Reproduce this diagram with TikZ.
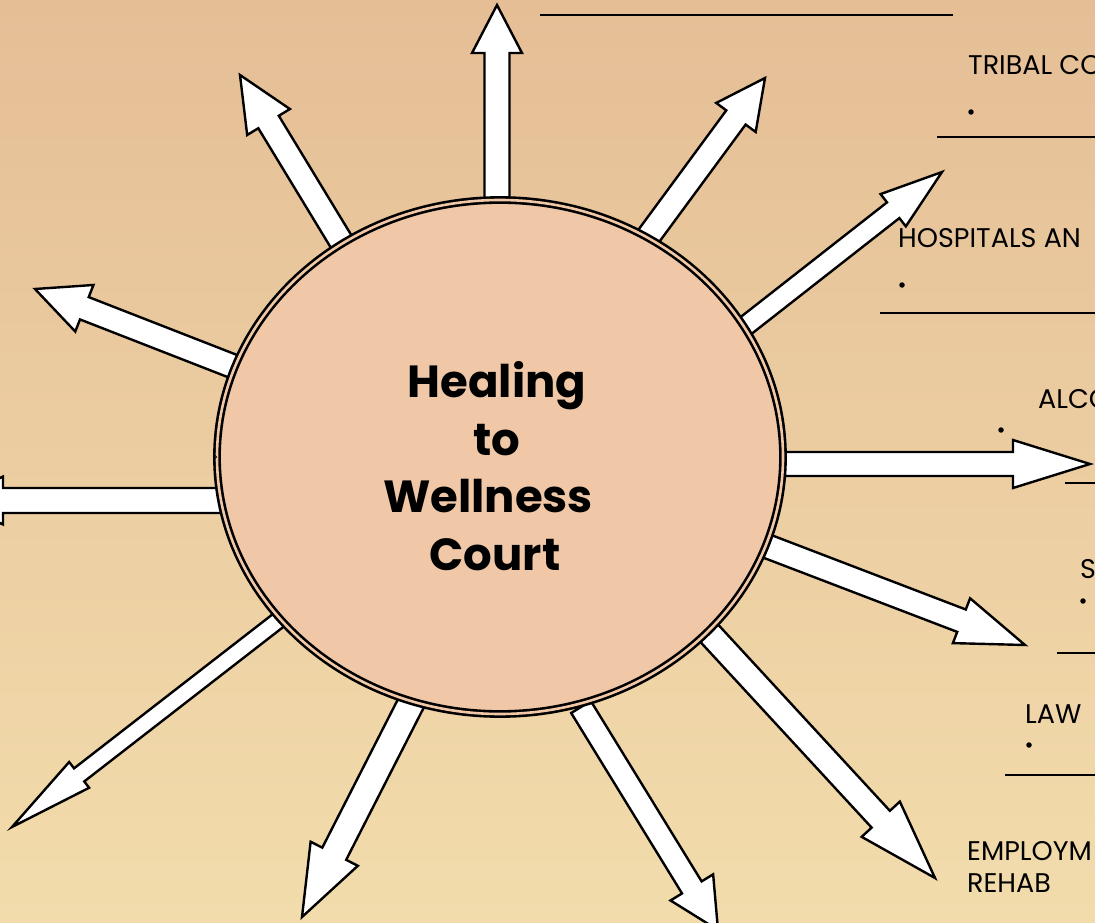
\documentclass[tikz,border=0pt]{standalone}
\usepackage{fontspec}
\setmainfont{Poppins}
\usetikzlibrary{calc,shapes.geometric}
\definecolor{bgtop}{RGB}{229,190,150}
\definecolor{bgmid}{RGB}{235,205,162}
\definecolor{bgbot}{RGB}{242,220,172}
\definecolor{hubfill}{RGB}{240,200,168}
\newcommand\sunarrow[5]{%
  \coordinate (hb) at ($(#2)!#5!(#1)$);
  \draw[rayarrow] ($(#1)!#3!90:(#2)$) -- ($(hb)!#3!90:(#2)$) -- ($(hb)!#4!90:(#2)$) -- (#2)
     -- ($(hb)!#4!-90:(#2)$) -- ($(hb)!#3!-90:(#2)$) -- ($(#1)!#3!-90:(#2)$) -- cycle;}
\begin{document}
\begin{tikzpicture}[x=1pt,y=-1pt,
  rayarrow/.style={fill=white,draw=black,line width=2.4pt,line join=miter},
  hub/.style={ellipse,draw=black,line width=2.6pt,double=hubfill,double distance=2.6pt,
    fill=hubfill,minimum width=566pt,minimum height=514pt,inner sep=0pt},
  titletext/.style={anchor=base,inner sep=0pt,font=\fontsize{45}{50}\selectfont\bfseries},
  lbl/.style={anchor=base west,inner sep=0pt,font=\fontsize{27}{32}\selectfont},
  dotm/.style={circle,fill=black,inner sep=0pt,minimum size=5.5pt},
  rule/.style={draw=black,line width=2.4pt}]
\useasboundingbox (0,0) rectangle (1095,923);
\fill[top color=bgtop,middle color=bgmid,bottom color=bgbot] (0,0) rectangle (1095,923);

% arrow bases and tips
\coordinate (b1) at (497,215);   \coordinate (t1) at (497,5);
\coordinate (b2) at (346,249.5); \coordinate (t2) at (240,75);
\coordinate (b3) at (645,241);   \coordinate (t3) at (765,78);
\coordinate (b4) at (739,331);   \coordinate (t4) at (942,172);
\coordinate (b5) at (240,369);   \coordinate (t5) at (35,289);
\coordinate (b6) at (232,500.5); \coordinate (t6) at (-47,500.5);
\coordinate (b7) at (775,464);   \coordinate (t7) at (1090,464);
\coordinate (b8) at (763,544.7); \coordinate (t8) at (1025,645);
\coordinate (b9) at (709,633);   \coordinate (t9) at (935,878);
\coordinate (b10) at (581,707);  \coordinate (t10) at (718,930);
\coordinate (b11) at (415.5,694.3); \coordinate (t11) at (302,917);
\coordinate (b12) at (286.5,614); \coordinate (t12) at (12,827);

\sunarrow{b1}{t1}{12.5pt}{25pt}{48pt}
\sunarrow{b2}{t2}{12pt}{25pt}{55pt}
\sunarrow{b3}{t3}{12pt}{24.5pt}{49pt}
\sunarrow{b4}{t4}{10pt}{20.5pt}{62pt}
\sunarrow{b5}{t5}{12pt}{25pt}{53pt}
\sunarrow{b6}{t6}{12.5pt}{24pt}{50pt}
\sunarrow{b7}{t7}{12pt}{24pt}{77pt}
\sunarrow{b8}{t8}{12pt}{24pt}{68pt}
\sunarrow{b9}{t9}{12.4pt}{26pt}{80pt}
\sunarrow{b10}{t10}{11.5pt}{25pt}{50pt}
\sunarrow{b11}{t11}{13.4pt}{26.5pt}{71pt}
\sunarrow{b12}{t12}{8.3pt}{16.3pt}{85pt}

\node[hub] (hub) at (500,457) {};
\draw[line width=0.6pt] (215,457) circle (1.6);

\node[titletext] (tA) at (497,397) {Healing};
\node[titletext] (tB) at (497,455) {to};
\node[titletext] (tC) at (488,512) {Wellness};
\node[titletext] (tD) at (495,570) {Court};

% right-hand list
\coordinate (r0a) at (540,15);   \coordinate (r0b) at (953,15);
\coordinate (r1a) at (937,137);  \coordinate (r1b) at (1095,137);
\coordinate (r2a) at (880,313);  \coordinate (r2b) at (1095,313);
\coordinate (r3a) at (1065,483); \coordinate (r3b) at (1095,483);
\coordinate (r4a) at (1057,653); \coordinate (r4b) at (1095,653);
\coordinate (r5a) at (1005,775); \coordinate (r5b) at (1095,775);
\draw[rule] (r0a) -- (r0b);
\draw[rule] (r1a) -- (r1b);
\draw[rule] (r2a) -- (r2b);
\draw[rule] (r3a) -- (r3b);
\draw[rule] (r4a) -- (r4b);
\draw[rule] (r5a) -- (r5b);

\node[lbl] (lTribal) at (968,75) {TRIBAL CO};
\node[dotm] (d1) at (971,112) {};
\node[lbl] (lHosp) at (898,247) {HOSPITALS AN};
\node[dotm] (d2) at (902,285) {};
\node[lbl] (lAlco) at (1038,408) {ALCO};
\node[dotm] (d3) at (1001,430) {};
\node[lbl] (lS) at (1080,578) {S};
\node[dotm] (d4) at (1083,601) {};
\node[lbl] (lLaw) at (1025,723) {LAW};
\node[dotm] (d5) at (1029,745) {};
\node[lbl] (lEmp) at (967,860) {EMPLOYM};
\node[lbl] (lRehab) at (967,892) {REHAB};
\end{tikzpicture}
\end{document}
